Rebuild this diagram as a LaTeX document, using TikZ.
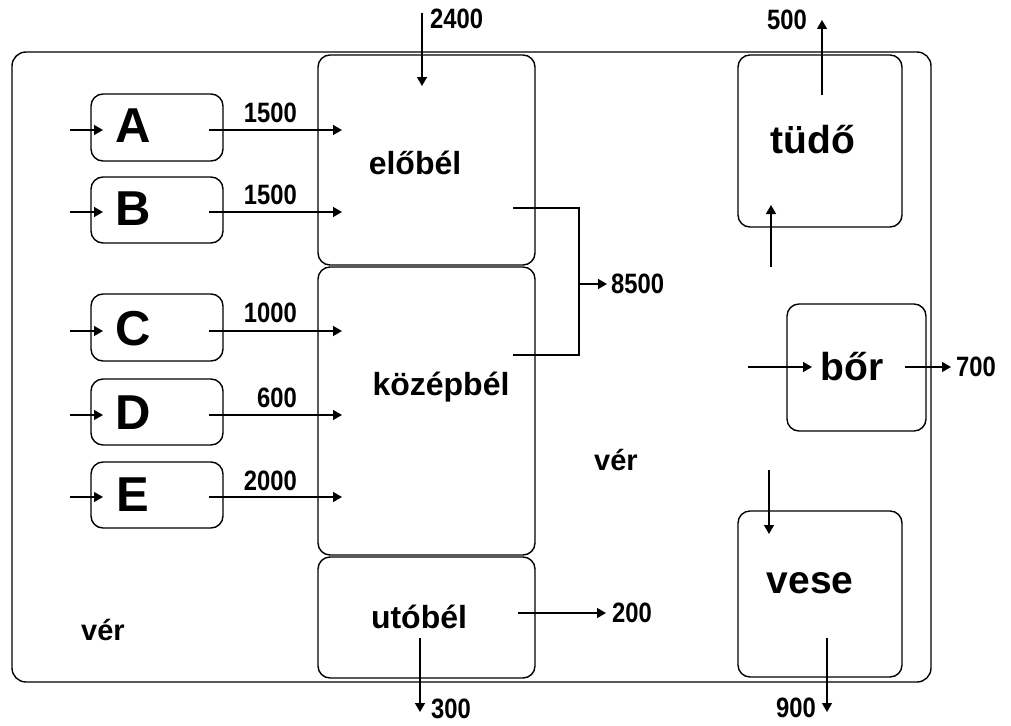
\documentclass[tikz,border=0pt]{standalone}
\usepackage{fontspec}
\setmainfont{Liberation Sans}
\newfontfamily\numfont[FakeStretch=0.85]{Liberation Sans}
\usetikzlibrary{arrows.meta}
\begin{document}
\begin{tikzpicture}[x=1pt,y=-1pt,
  box/.style={draw, line width=1.4pt, rounded corners=12pt, inner sep=0pt},
  arr/.style={-{Triangle[length=9pt,width=10pt]}, line width=1.4pt},
  plain/.style={line width=1.4pt},
  letter/.style={inner sep=0pt, font=\fontsize{49}{49}\selectfont\bfseries},
  gut/.style={inner sep=0pt, font=\fontsize{32}{32}\selectfont\bfseries},
  organ/.style={inner sep=0pt, font=\fontsize{39}{39}\selectfont\bfseries},
  blood/.style={inner sep=0pt, font=\fontsize{29}{29}\selectfont\bfseries},
  num/.style={inner sep=0pt, font=\numfont\fontsize{28}{28}\selectfont\bfseries}
]
\useasboundingbox (0,0) rectangle (1011,725);

% outer blood compartment
\node[box, rounded corners=14pt, minimum width=919pt, minimum height=630pt] (outer) at (471.5,367) {};

% sources
\node[box, minimum width=132pt, minimum height=67pt] (A) at (157,127.5) {};
\node[box, minimum width=132pt, minimum height=66pt] (B) at (157,210) {};
\node[box, minimum width=132pt, minimum height=67pt] (C) at (157,327.5) {};
\node[box, minimum width=132pt, minimum height=66pt] (D) at (157,412) {};
\node[box, minimum width=132pt, minimum height=66pt] (E) at (157,495) {};

% gut
\node[box, minimum width=217pt, minimum height=210pt] (elo) at (426.5,160) {};
\node[box, minimum width=217pt, minimum height=288pt] (kozep) at (426.5,411) {};
\node[box, minimum width=217pt, minimum height=121pt] (uto) at (426.5,617.5) {};

% organs
\node[box, minimum width=164pt, minimum height=172pt] (tudo) at (820,141) {};
\node[box, minimum width=139pt, minimum height=127pt] (bor) at (856.5,367.5) {};
\node[box, minimum width=164pt, minimum height=166pt] (vese) at (820,594) {};

% texts
\node[letter] (tA) at (133,126) {A};
\node[letter] (tB) at (133,209) {B};
\node[letter] (tC) at (133,329) {C};
\node[letter] (tD) at (133,413) {D};
\node[letter] (tE) at (133,495) {E};
\node[gut] (telo) at (415,163) {előbél};
\node[gut] (tkozep) at (441,387) {középbél};
\node[gut] (tuto) at (419,617) {utóbél};
\node[organ] (ttudo) at (813,140) {tüdő};
\node[organ] (tbor) at (852,367) {bőr};
\node[organ] (tvese) at (810,583) {vese};
\node[blood] (ver1) at (616,460) {vér};
\node[blood] (ver2) at (103,630) {vér};

% input arrows to A..E
\foreach \n/\y in {A/130,B/212,C/331,D/415,E/497}{
  \coordinate (\n in) at (70,\y);
  \coordinate (\n tip) at (103,\y);
  \coordinate (\n out) at (209,\y);
  \coordinate (\n to) at (342,\y);
  \draw[arr] (\n in) -- (\n tip);
  \draw[arr] (\n out) -- (\n to);
}
\node[num, anchor=east] (l1) at (297,113) {1500};
\node[num, anchor=east] (l2) at (297,195) {1500};
\node[num, anchor=east] (l3) at (297,313) {1000};
\node[num, anchor=east] (l4) at (297,398) {600};
\node[num, anchor=east] (l5) at (297,481) {2000};

% 2400 into előbél
\coordinate (in2400) at (422,13);
\coordinate (tip2400) at (422,86);
\draw[arr] (in2400) -- (tip2400);
\node[num, anchor=west] (l2400) at (430,19) {2400};

% bracket to 8500
\coordinate (eloOut) at (513,208);
\coordinate (kozOut) at (513,355);
\coordinate (brTop) at (579,208);
\coordinate (brBot) at (579,355);
\coordinate (brMid) at (579,284);
\coordinate (tip8500) at (607,284);
\draw[plain] (eloOut) -- (brTop) -- (brBot) -- (kozOut);
\draw[arr] (brMid) -- (tip8500);
\node[num, anchor=west] (l8500) at (611,284) {8500};

% utóbél outputs
\coordinate (utoR) at (518,613);
\coordinate (tip200) at (606,613);
\draw[arr] (utoR) -- (tip200);
\node[num, anchor=west] (l200) at (612,613) {200};
\coordinate (utoD) at (420,638);
\coordinate (tip300) at (420,712);
\draw[arr] (utoD) -- (tip300);
\node[num, anchor=west] (l300) at (431,709) {300};

% tüdő
\coordinate (tudoOut) at (822,95);
\coordinate (tip500) at (822,20);
\draw[arr] (tudoOut) -- (tip500);
\node[num, anchor=east] (l500) at (807,20) {500};
\coordinate (tudoInS) at (771,267);
\coordinate (tudoInT) at (771,205);
\draw[arr] (tudoInS) -- (tudoInT);

% bőr
\coordinate (borInS) at (748,367);
\coordinate (borInT) at (812,367);
\draw[arr] (borInS) -- (borInT);
\coordinate (borOut) at (905,367);
\coordinate (tip700) at (951,367);
\draw[arr] (borOut) -- (tip700);
\node[num, anchor=west] (l700) at (956,367) {700};

% vese
\coordinate (veseInS) at (769,470);
\coordinate (veseInT) at (769,534);
\draw[arr] (veseInS) -- (veseInT);
\coordinate (veseOut) at (827,638);
\coordinate (tip900) at (827,712);
\draw[arr] (veseOut) -- (tip900);
\node[num, anchor=east] (l900) at (816,708) {900};
\end{tikzpicture}
\end{document}
